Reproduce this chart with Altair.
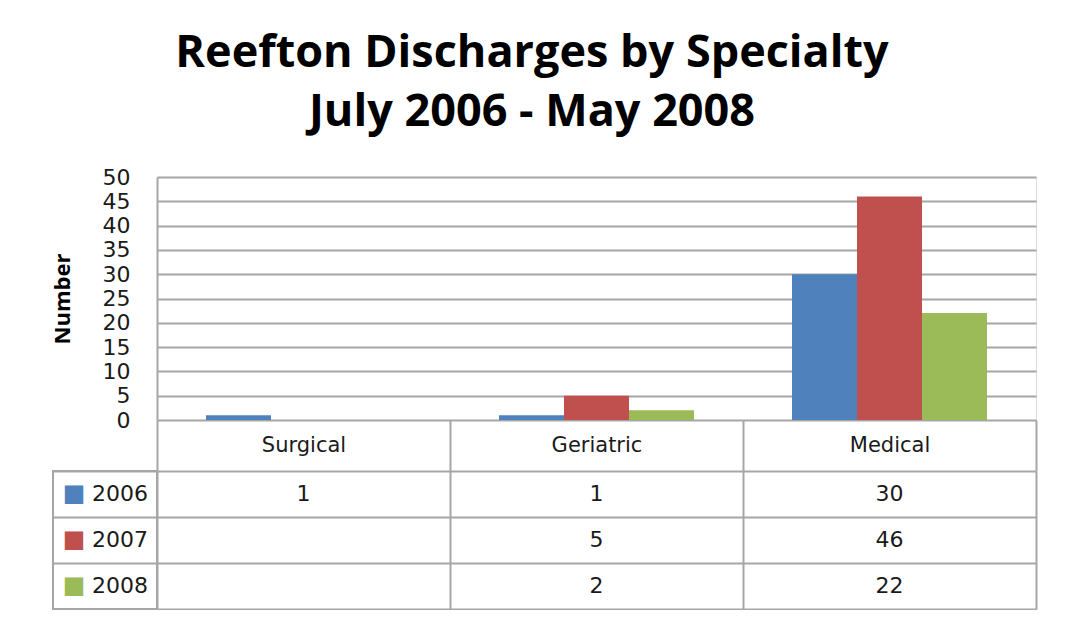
import altair as alt
import pandas as pd

specialties = ["Surgical", "Geriatric", "Medical"]
years = ["2006", "2007", "2008"]
values_2006 = [1, 1, 30]
values_2007 = [None, 5, 46]
values_2008 = [None, 2, 22]
colors = ["#4F81BD", "#C0504D", "#9BBB59"]
y_ticks = list(range(0, 51, 5))

rows = []
for yr, vals in zip(years, [values_2006, values_2007, values_2008]):
    for sp, v in zip(specialties, vals):
        rows.append({"Specialty": sp, "Year": yr, "Number": v,
                     "Label": "" if v is None else str(v)})
df = pd.DataFrame(rows)
leg = pd.DataFrame({"Year": years, "Square": ["\u25A0"] * 3})

GRID = "#a6a6a6"
NUMFONT = "DejaVu Sans"
TXT = "#1a1a1a"

xscale = alt.Scale(domain=specialties, paddingInner=0, paddingOuter=0)
cscale = alt.Scale(domain=years, range=colors)
rowscale = alt.Scale(domain=years, paddingInner=0, paddingOuter=0)

bars = alt.Chart(df).mark_bar(size=65).encode(
    x=alt.X("Specialty:N", scale=xscale, sort=specialties,
            axis=alt.Axis(title=None, orient="bottom", tickBand="extent", tickSize=51,
                          tickColor=GRID, tickWidth=2, domain=False, grid=False, labelAngle=0,
                          labelFont=NUMFONT, labelFontSize=21, labelColor=TXT,
                          labelBaseline="middle", labelPadding=-26)),
    xOffset=alt.XOffset("Year:N", scale=alt.Scale(domain=years, paddingInner=0, paddingOuter=0.754)),
    y=alt.Y("Number:Q", scale=alt.Scale(domain=[0, 50], nice=False),
            axis=alt.Axis(title="Number", values=y_ticks, grid=True, gridColor=GRID, gridWidth=2,
                          ticks=False, domain=True, domainColor=GRID, domainWidth=2,
                          labelFont=NUMFONT, labelFontSize=22, labelColor=TXT, labelPadding=27,
                          titleFont="Open Sans", titleFontWeight="bold", titleFontSize=22,
                          titleColor="#000000", titlePadding=28)),
    color=alt.Color("Year:N", scale=cscale, legend=None),
).properties(width=879, height=243)

empty = alt.Chart(pd.DataFrame({"e": []})).mark_point(opacity=0).properties(width=104, height=243)

table_text = alt.Chart(df).mark_text(font=NUMFONT, fontSize=22, color=TXT).encode(
    x=alt.X("Specialty:N", scale=xscale, sort=specialties,
            axis=alt.Axis(title=None, labels=False, ticks=False, domain=False, grid=True,
                          tickBand="extent", gridColor=GRID, gridWidth=2)),
    y=alt.Y("Year:N", scale=rowscale,
            axis=alt.Axis(title=None, labels=False, ticks=False, domain=False, grid=True,
                          tickBand="extent", gridColor=GRID, gridWidth=2)),
    text="Label:N",
).properties(width=879, height=138)

leg_base = alt.Chart(leg).encode(
    y=alt.Y("Year:N", scale=rowscale,
            axis=alt.Axis(title=None, labels=False, ticks=False, domain=False, grid=True,
                          tickBand="extent", gridColor=GRID, gridWidth=2)),
)
leg_sq = leg_base.mark_text(font=NUMFONT, fontSize=24, dx=-31, baseline="middle").encode(
    text="Square:N", color=alt.Color("Year:N", scale=cscale, legend=None))
leg_tx = leg_base.mark_text(font=NUMFONT, fontSize=22, dx=15, color=TXT, baseline="middle").encode(
    text="Year:N")
legend_col = alt.layer(leg_sq, leg_tx).properties(
    width=104, height=138, view=alt.ViewBackground(stroke=GRID, strokeWidth=2))

chart = alt.concat(empty, bars, legend_col, table_text, columns=2,
                   spacing={"row": 51, "column": 0}, bounds="flush").properties(
    title=alt.TitleParams(
        text=["Reefton Discharges by Specialty", "July 2006 - May 2008"],
        font="Open Sans", fontSize=45, fontWeight="bold", color="#000000",
        anchor="middle", lineHeight=59, offset=31, dx=-12),
    padding={"left": 42, "top": 22, "right": 10, "bottom": 0},
).configure_view(stroke="transparent").configure(background="white")

chart.save("out.html", embed_options={"renderer": "svg", "actions": False})
